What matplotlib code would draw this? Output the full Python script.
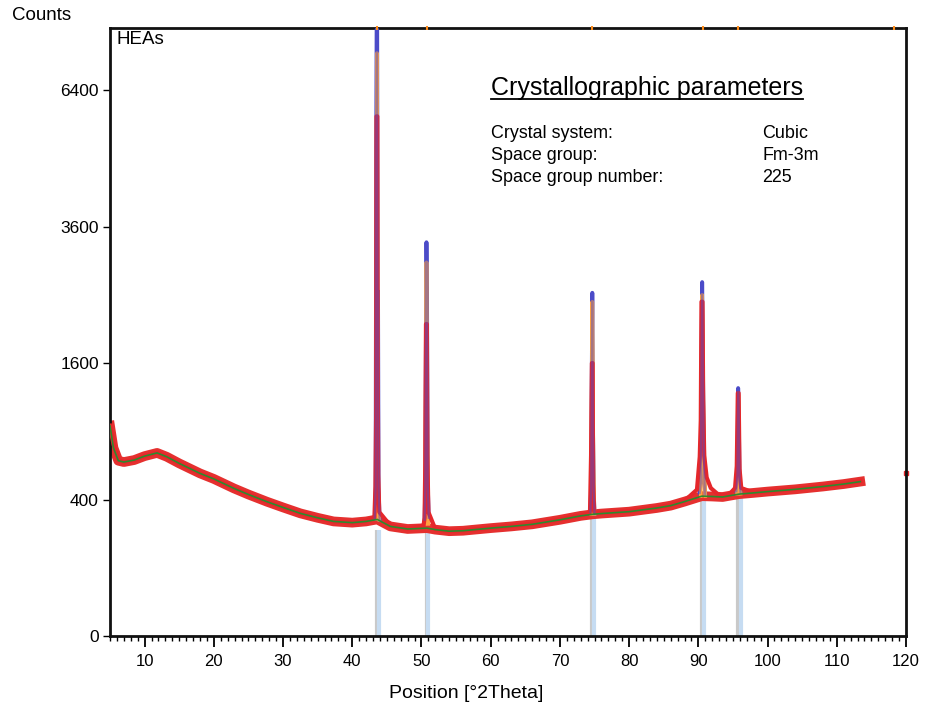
import numpy as np
import matplotlib
matplotlib.use("Agg")
import matplotlib.pyplot as plt
from matplotlib.lines import Line2D
from matplotlib.ticker import MultipleLocator

plt.rcParams["font.family"] = ["Liberation Sans", "DejaVu Sans"]

obs_x = [5.0, 5.5, 6.2, 7.0, 8.5, 10.0, 11.8, 13.2, 15.0, 18.0, 20.0, 22.9, 25.0,
         27.7, 30.0, 32.5, 35.0, 37.3, 40.0, 42.0, 43.2,
         43.35, 43.45, 43.5, 43.62, 43.66, 43.75, 43.9,
         45.5, 48.0, 50.3,
         50.45, 50.55, 50.65, 50.78, 50.85, 51.0,
         52.0, 54.0, 56.0, 58.0, 60.0, 63.0, 66.0, 70.0, 73.0, 74.3,
         74.35, 74.5, 74.62, 74.72, 74.8, 74.95,
         76.0, 80.0, 84.0, 86.0, 88.0, 89.8,
         90.2, 90.35, 90.45, 90.6, 90.7, 90.85, 91.2, 91.8,
         93.0, 94.5, 95.3,
         95.55, 95.7, 95.82, 95.95, 96.2,
         98.0, 100.0, 104.0, 108.0, 111.0, 113.4]
obs_y = [950, 790, 665, 650, 665, 695, 722, 692, 640, 568, 530, 468, 430,
         387, 355, 323, 300, 282, 276, 285, 300,
         480, 1070, 5800, 5800, 2000, 560, 330,
         262, 248, 262,
         300, 640, 2090, 2090, 700, 330,
         245, 238, 240, 245, 252, 260, 270, 292, 312, 325,
         340, 700, 1600, 1600, 500, 330,
         325, 335, 355, 368, 392, 460,
         690, 1000, 2400, 2400, 1200, 700, 540, 470,
         425, 432, 470,
         620, 1268, 1268, 600, 470,
         442, 450, 465, 482, 498, 515]
stray_x = [120.0]
stray_y = [570]

# Background (green)
bg_x = [5.0, 5.5, 6.2, 7.0, 8.5, 10.0, 11.8, 13.2, 15.0, 18.0, 20.0, 22.9, 25.0,
        27.7, 30.0, 32.5, 35.0, 37.3, 40.0, 42.0, 43.6, 45.5, 48.0, 50.8, 52.0,
        54.0, 56.0, 58.0, 60.0, 63.0, 66.0, 70.0, 73.0, 74.7, 76.0, 80.0, 84.0,
        86.0, 88.0, 90.5, 92.0, 93.5, 95.8, 98.0, 100.0, 104.0, 108.0, 111.0, 113.4]
bg_y = [950, 760, 660, 650, 665, 695, 720, 690, 640, 568, 530, 468, 430,
        387, 355, 323, 300, 282, 276, 282, 292, 258, 246, 250, 243,
        236, 238, 244, 250, 258, 268, 290, 310, 318, 322, 332, 352,
        365, 388, 420, 418, 415, 432, 440, 448, 462, 480, 496, 512]

# Calculated profile (blue), peak regions only
calc_x = [43.25, 43.38, 43.46, 43.52, 43.6, 43.66, 43.72, 43.8, 43.95, np.nan,
          50.45, 50.55, 50.62, 50.72, 50.8, 50.9, 51.05, np.nan,
          74.4, 74.52, 74.6, 74.68, 74.78, 74.88, 75.0, np.nan,
          90.2, 90.35, 90.45, 90.55, 90.65, 90.8, 91.0, np.nan,
          95.5, 95.65, 95.75, 95.85, 95.95, 96.1]
calc_y = [295, 477, 4970, 7900, 7900, 2550, 2550, 477, 290, np.nan,
          290, 470, 1500, 3330, 2420, 500, 300, np.nan,
          330, 480, 1400, 2530, 911, 450, 320, np.nan,
          440, 500, 1500, 2690, 1670, 600, 430, np.nan,
          450, 560, 1320, 1000, 520, 440]

# Second profile component (orange)
comp_x = [43.45, 43.57, 43.72, 43.9, np.nan,
          50.5, 50.72, 50.85, 51.0, np.nan,
          74.5, 74.68, 74.85, 75.0, np.nan,
          90.35, 90.55, 90.75, 91.0, np.nan,
          95.6, 95.78, 95.95, 96.1]
comp_y = [295, 7300, 420, 290, np.nan,
          270, 3000, 900, 270, np.nan,
          320, 2400, 600, 320, np.nan,
          420, 2500, 1000, 420, np.nan,
          435, 1250, 500, 435]

# Reference peak sticks
stick_ka1 = [43.55, 50.75, 74.62, 90.5, 95.75]
stick_ka2 = [43.8, 51.0, 74.88, 90.85, 96.1]
stick_top = [241, 245, 325, 427, 430]
ref_marks = [43.6, 50.8, 74.7, 90.7, 95.8, 118.2]

params = ["Crystal system:", "Space group:", "Space group number:"]
values = ["Cubic", "Fm-3m", "225"]

fig = plt.figure(figsize=(9.35, 7.14), dpi=100)
ax = fig.add_axes([110 / 935, 1 - 636 / 714, 796 / 935, 608 / 714])

ax.set_yscale("function", functions=(lambda v: np.sqrt(np.clip(v, 0, None)),
                                     lambda v: np.square(v)))
ax.set_xlim(5, 120)
ax.set_ylim(0, 7940)

ax.vlines(stick_ka1, 0, stick_top, color="#c9c9c9", lw=3, zorder=1)
ax.vlines(stick_ka2, 0, stick_top, color="#c6dcf2", lw=3, zorder=1)

# noisy observed band, calc, component, observed line, background
ax.plot(bg_x, bg_y, color="#e5302f", lw=7, zorder=2)
ax.plot(calc_x, calc_y, color="#4b4bc8", lw=2.8, zorder=3)
ax.plot(comp_x, comp_y, color="#ffa040", lw=2.6, zorder=4)
ax.plot(obs_x, obs_y, color="#e5272b", lw=3, zorder=5)
ax.plot(calc_x, calc_y, color="#4b4bc8", lw=1.6, alpha=0.5, zorder=6)
ax.plot(stray_x, stray_y, "s", color="#e5272b", ms=3, zorder=2, clip_on=False)
ax.plot(bg_x, bg_y, color="#2d8a2d", lw=1.2, zorder=7)
ax.plot(ref_marks, [7940] * len(ref_marks), ls="none", marker="|", ms=3.5,
        mew=1.5, color="#ff8c1a", clip_on=False, zorder=8)

ax.set_yticks([0, 400, 1600, 3600, 6400])
ax.set_yticklabels(["0", "400", "1600", "3600", "6400"])
ax.xaxis.set_major_locator(MultipleLocator(10))
ax.xaxis.set_minor_locator(MultipleLocator(1))
ax.tick_params(axis="x", which="major", direction="out", length=8, width=1.3,
               labelsize=12, pad=5)
ax.tick_params(axis="x", which="minor", direction="out", length=3.5, width=1)
ax.tick_params(axis="y", which="major", direction="out", length=5, width=1,
               labelsize=12.5, pad=3)
ax.tick_params(axis="y", which="minor", length=0)
for s in ax.spines.values():
    s.set_linewidth(2)
    s.set_color("#111111")

fig.text(12 / 935, 1 - 15 / 714, "Counts", fontsize=13.5, va="center", ha="left")
fig.text(116 / 935, 1 - 40 / 714, "HEAs", fontsize=13.5, va="center", ha="left")
fig.text(466 / 935, 1 - 693 / 714, "Position [°2Theta]", fontsize=14,
         va="center", ha="center")

title = fig.text(491 / 935, 1 - 88 / 714, "Crystallographic parameters",
                 fontsize=18, va="center", ha="left")
for i, (p, v) in enumerate(zip(params, values)):
    yy = 1 - (134 + 22 * i) / 714
    fig.text(491 / 935, yy, p, fontsize=12.9, va="center", ha="left")
    fig.text(762 / 935, yy, v, fontsize=12.9, va="center", ha="left")

fig.canvas.draw()
bb = title.get_window_extent().transformed(fig.transFigure.inverted())
fig.add_artist(Line2D([bb.x0, bb.x1], [bb.y0 + 0.002, bb.y0 + 0.002],
                      transform=fig.transFigure, color="black", lw=1.3))

fig.savefig("out.png", dpi=100)
